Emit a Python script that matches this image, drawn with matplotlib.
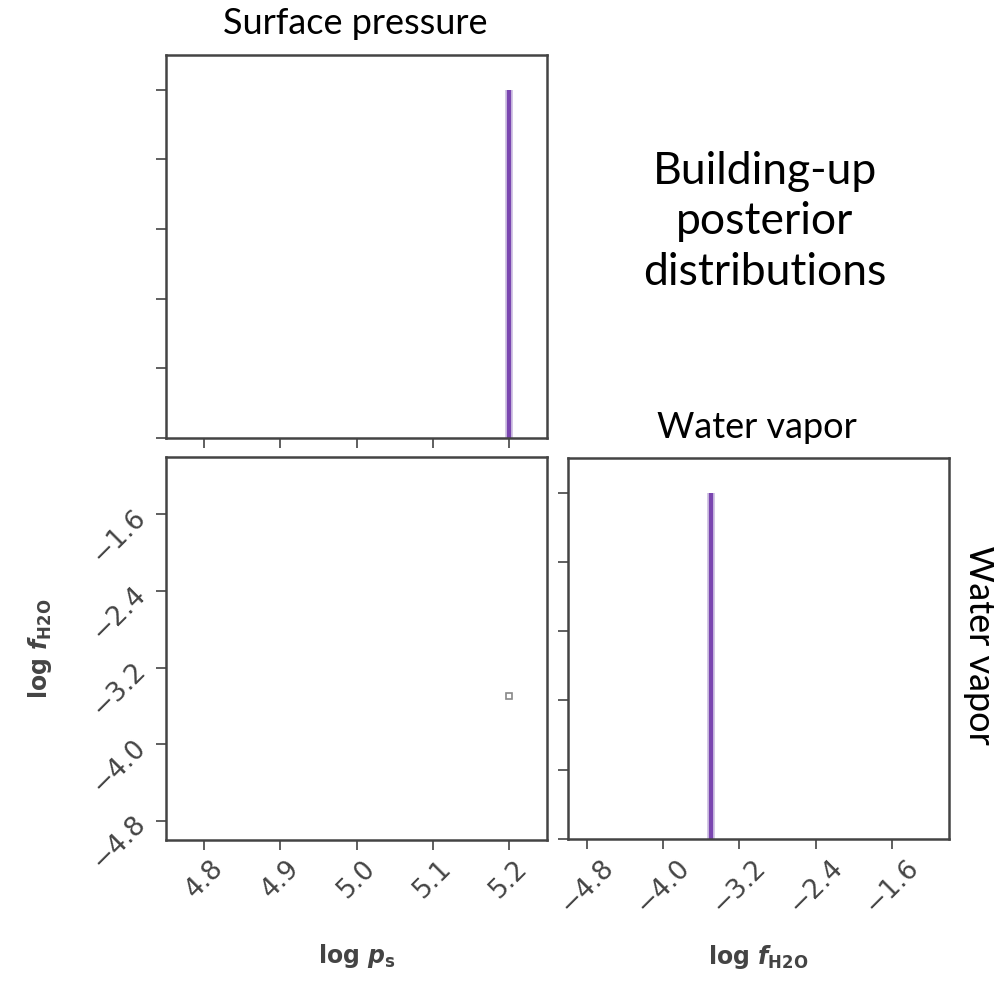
import matplotlib
matplotlib.use("Agg")
import matplotlib.pyplot as plt

# data
ps_ticks = [4.8, 4.9, 5.0, 5.1, 5.2]
fh2o_ticks = [-4.8, -4.0, -3.2, -2.4, -1.6]
ps_samples = [5.2]        # log p_s of the single posterior sample
fh2o_samples = [-3.5]     # log f_H2O of the single posterior sample
hist_height = [1.0]       # normalised peak height
hist_yticks = [0.0, 0.2, 0.4, 0.6, 0.8, 1.0]

PURPLE = "#7a46b0"
HALO = "#cbbde0"
GREY = "#444444"

plt.rcParams["mathtext.fontset"] = "custom"
plt.rcParams["mathtext.rm"] = "DejaVu Sans:bold"
plt.rcParams["mathtext.it"] = "DejaVu Sans:italic:bold"

fig = plt.figure(figsize=(9.95, 9.86), dpi=100)
W, H = 995, 986


def add_ax(left, top, right, bottom):
    return fig.add_axes([left / W, 1 - bottom / H, (right - left) / W, (bottom - top) / H])


def style(ax):
    for sp in ax.spines.values():
        sp.set_linewidth(1.8)
        sp.set_color(GREY)
    ax.tick_params(direction="out", length=7, width=1.2, color=GREY,
                   labelcolor=GREY, labelsize=19, pad=4)


ax_ps = add_ax(166, 55, 547, 438)
ax_2d = add_ax(166, 457, 547, 840)
ax_fw = add_ax(568, 458, 949, 839)

# top-left: histogram of log p_s
ax_ps.vlines(ps_samples, 0, hist_height, color=HALO, lw=5.5)
ax_ps.vlines(ps_samples, 0, hist_height, color=PURPLE, lw=3)
ax_ps.set_xlim(4.75, 5.25)
ax_ps.set_ylim(0, 1.1)
ax_ps.set_xticks(ps_ticks)
ax_ps.set_yticks(hist_yticks)
ax_ps.set_xticklabels([])
ax_ps.set_yticklabels([])
style(ax_ps)

# bottom-left: 2D density
ax_2d.plot(ps_samples, fh2o_samples, ls="none", marker="s", ms=4,
           mfc="none", mec="#888888", mew=1.2)
ax_2d.set_xlim(4.75, 5.25)
ax_2d.set_ylim(-5.0, -1.0)
ax_2d.set_xticks(ps_ticks)
ax_2d.set_yticks(fh2o_ticks)
ax_2d.set_xticklabels([f"{t:.1f}" for t in ps_ticks], rotation=45)
ax_2d.set_yticklabels([f"\u2212{abs(t):.1f}" for t in fh2o_ticks], rotation=45)
style(ax_2d)
ax_2d.set_xlabel(r"log $p_{\rm s}$", fontsize=17, color=GREY, labelpad=28,
                 fontweight="bold")
ax_2d.set_ylabel(r"log $f_{\rm H2O}$", fontsize=17, color=GREY, labelpad=24,
                 fontweight="bold")

# bottom-right: histogram of log f_H2O
ax_fw.vlines(fh2o_samples, 0, hist_height, color=HALO, lw=5.5)
ax_fw.vlines(fh2o_samples, 0, hist_height, color=PURPLE, lw=3)
ax_fw.set_xlim(-5.0, -1.0)
ax_fw.set_ylim(0, 1.1)
ax_fw.set_xticks(fh2o_ticks)
ax_fw.set_yticks(hist_yticks)
ax_fw.set_yticklabels([])
ax_fw.set_xticklabels([f"\u2212{abs(t):.1f}" for t in fh2o_ticks], rotation=45)
style(ax_fw)
ax_fw.set_xlabel(r"log $f_{\rm H2O}$", fontsize=17, color=GREY, labelpad=18,
                 fontweight="bold")

# annotations
tfont = dict(family=["Lato", "DejaVu Sans"], color="black")
fig.text(355 / W, 1 - 24 / H, "Surface pressure", ha="center", va="center",
         fontsize=26, **tfont)
fig.text(757 / W, 1 - 428 / H, "Water vapor", ha="center", va="center",
         fontsize=26, **tfont)
fig.text(980 / W, 1 - 645 / H, "Water vapor", ha="center", va="center",
         rotation=-90, fontsize=26, **tfont)
fig.text(765 / W, 1 - 222 / H, "Building-up\nposterior\ndistributions",
         ha="center", va="center", fontsize=32, linespacing=1.3, **tfont)

fig.savefig("out.png", dpi=100)
